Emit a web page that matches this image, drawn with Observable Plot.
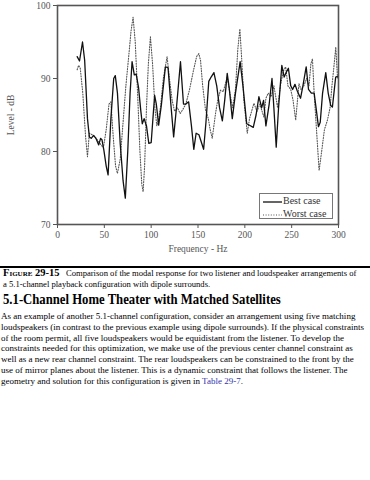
<!DOCTYPE html>
<html><head><meta charset="utf-8">
<script src="https://cdn.jsdelivr.net/npm/d3@7"></script>
<script src="https://cdn.jsdelivr.net/npm/@observablehq/plot@0.6"></script>
<style>
body{margin:0;background:#fff;font-family:"Liberation Serif","Times New Roman",serif;color:#000;}
#page{position:relative;width:370px;height:480px;overflow:hidden;}
.abs{position:absolute;left:0;white-space:nowrap;}
#chart svg, #chart svg text{font-family:"Liberation Serif","Times New Roman",serif !important;}
</style></head>
<body><div id="page">
<div id="chart" class="abs" style="top:0"></div>
</div>
<script>
const bestFreq = [21,23.5,26.7,29,32,34,36,38.5,41,44,46,47.5,49.5,52,54,57,60,61.7,64,67,70,72.4,75,77.5,79.6,82,84,86.5,89,90.5,92.5,95,97.5,100,103.7,105.5,108,111,115.2,118,121,124,127,131.3,134.5,137,140,143,145.5,148,151,153,156,158.5,161.5,164,167,170,173,176,178.5,181.2,183.5,186.6,190,195,198,202,205,209,212,215,218,220,222.5,226,229,231,233.5,236,239.5,242,244,246.5,249,251,253.5,256,259.5,262,265.5,268,271,274,276,278.6,280.5,283,286.4,289,291.7,293.5,297,299];
const bestLevel = [93,92.4,95,92.5,84.5,82,81.8,82.2,81.8,80.9,81.8,81.6,80.2,78,76.8,84.5,90,90.4,88,81,76,73.6,80,88,92.3,90.5,90.6,88.8,85.5,83.8,84.5,83.5,81.1,81.2,87.7,86.5,83.6,86.5,91.6,91.5,86.5,82,86,92.3,86.5,86.5,86.8,83.5,80.3,82.5,82.3,81.5,80.3,84,89.6,90.2,90.8,89,86,84.2,87,90.7,88.5,84.5,88,92.3,89,83.8,83.6,83.3,85,87.5,86,87,83.5,86.5,90,86,80.6,86,91.8,90.2,90.8,91.4,89,88.5,89.2,88.3,87.3,89,91.6,88.5,88,88,86,83.4,84,88,90.8,88,86.3,86.1,90.2,90.3];
const worstFreq = [21,22.5,24.3,27,30,32,34,37,40,43,46,49,52,55,57,59.5,62,64,67,70,73,76,78.5,80.7,83,85.5,88,90,91.4,93,95,97,99.2,101.5,104,106,108,110,113,117,119.5,122.4,125,128,131,134,137,141,145,148.5,150.9,152.7,155,158,161,163,165.2,168.7,171,174,177,181.2,184,187,190,192.5,194.7,196.5,199,202.6,205,209.7,213,216,220.4,222.5,225,228,231,235,238,241,243.6,246,249,251.5,254.3,257.8,260,263,266,268.5,270.5,272.2,274,276,279.3,282,285,288.2,291,293,295,297.1,299];
const worstLevel = [91.2,91.8,91.4,88,82,79.3,82.5,82.3,82,81.5,81,80.5,83,86.5,86.8,82,78,77,79,84,89,93,96.5,98.4,95,88,80,75.5,74.5,78,86,92,95.7,92,86,83.5,84.5,86.1,90,93,90,87,85.5,86,85.2,85.8,86.5,88.5,91,93,93.4,92.5,89,85.7,84.5,83,81.8,85.2,87,88.4,88.2,90.2,88,86,88.5,94,96.8,93,87,82.5,84.5,86.6,85.5,86.5,84.7,87.3,88,87.5,89,86,89,91,91.6,89,88.5,87,84.3,89.3,88.5,89,90,89,92,92.7,88,84,77.4,80,83,84.3,86,89,91.5,94.3,90];
const xTicks = [0,50,100,150,200,250,300];
const yTicks = [70,80,90,100];
const seriesNames = ["Best case","Worst case"];
const xLabel = "Frequency - Hz";
const yLabel = "Level - dB";
const captionLabel = "Figure 29-15";
const captionText = ["Comparison of the modal response for two listener and loudspeaker arrangements of","a 5.1-channel playback configuration with dipole surrounds."];
const heading = "5.1-Channel Home Theater with Matched Satellites";
const bodyLines = [
"As an example of another 5.1-channel configuration, consider an arrangement using five matching",
"loudspeakers (in contrast to the previous example using dipole surrounds). If the physical constraints",
"of the room permit, all five loudspeakers would be equidistant from the listener. To develop the",
"constraints needed for this optimization, we make use of the previous center channel constraint as",
"well as a new rear channel constraint. The rear loudspeakers can be constrained to the front by the",
"use of mirror planes about the listener. This is a dynamic constraint that follows the listener. The"];
const lastLine = "geometry and solution for this configuration is given in ";
const linkText = "Table 29-7";

const best = bestFreq.map((f,i)=>({f, v:bestLevel[i]}));
const worst = worstFreq.map((f,i)=>({f, v:worstLevel[i]}));

const chart = Plot.plot({
  width: 370, height: 255,
  marginLeft: 57, marginRight: 32, marginTop: 5, marginBottom: 31,
  style: {fontFamily: '"Liberation Serif", serif', fontSize: "9.5px", color: "#555", background: "transparent"},
  x: {domain: [0,300], ticks: xTicks, tickSize: 4, tickPadding: 3, label: null},
  y: {domain: [70,100], ticks: yTicks, tickSize: 4, tickPadding: 3, label: null},
  marks: [
    Plot.line(worst, {x:"f", y:"v", stroke:"#555", strokeWidth:1.1, strokeDasharray:"1,1.6"}),
    Plot.line(best, {x:"f", y:"v", stroke:"#111", strokeWidth:1.3}),
    Plot.frame({stroke:"#555", strokeWidth:1.6}),
    Plot.axisX({ticks: xTicks, tickSize: 4, tickPadding: 3, label: xLabel, labelAnchor:"center", labelOffset: 27, labelArrow: "none"}),
    Plot.axisY({ticks: yTicks, tickSize: 4, tickPadding: 3, label: yLabel, labelAnchor:"center", labelOffset: 50, labelArrow: "none"})
  ]
});
document.getElementById("chart").appendChild(chart);

const page = document.getElementById("page");
function add(html, style){const d=document.createElement("div");d.className="abs";d.style.cssText+=style;d.innerHTML=html;page.appendChild(d);return d;}

// legend
add(`<div style="font-size:10px;color:#333;line-height:13px">
<div><svg width="23" height="8" style="vertical-align:middle"><line x1="3" x2="22" y1="4" y2="4" stroke="#111" stroke-width="1.3"/></svg>${seriesNames[0]}</div>
<div><svg width="23" height="8" style="vertical-align:middle"><line x1="3" x2="22" y1="4" y2="4" stroke="#555" stroke-width="1.1" stroke-dasharray="1,1.6"/></svg>${seriesNames[1]}</div></div>`,
 "left:259px;top:193px;width:74px;height:26px;border:1px solid #777;background:#fff;padding:0;box-sizing:border-box;");

// rule
add("", "top:266px;width:370px;height:2px;background:#000;");
// caption
add(`<div><b style="font-variant:small-caps;font-size:10.5px">${captionLabel}</b>&nbsp;&nbsp;&nbsp;${captionText[0]}</div><div>${captionText[1]}</div>`,
 "top:268px;left:3px;font-size:8.6px;line-height:10.6px;");
// heading
add(heading, "top:290px;left:3px;font-size:15.5px;font-weight:bold;line-height:18px;transform:scaleX(0.82);transform-origin:0 0;");
// body
add(bodyLines.map(l=>`<div>${l}</div>`).join("") + `<div>${lastLine}<span style="color:#3333aa">${linkText}</span>.</div>`,
 "top:311px;left:1px;font-size:9px;line-height:10.8px;");
</script>
</body></html>
